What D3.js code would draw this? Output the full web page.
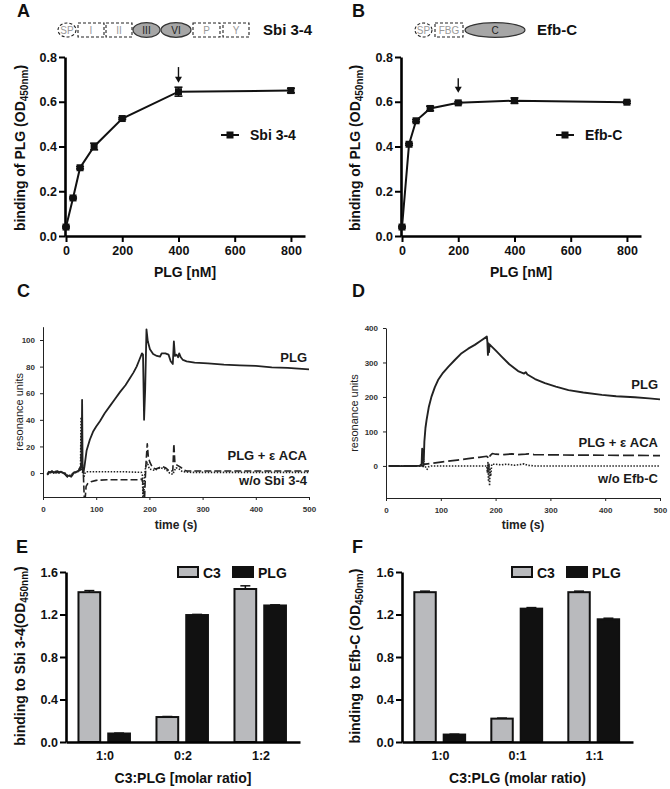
<!DOCTYPE html>
<html><head><meta charset="utf-8">
<script src="https://cdn.jsdelivr.net/npm/d3@7"></script>
<style>body{margin:0;background:#fff}svg{display:block}</style>
</head><body><svg id="c" width="670" height="789"></svg>
<script>
// ---------------- DATA ----------------
const plgConc = [0, 25, 50, 100, 200, 400, 800];
const sbiBinding = [0.04, 0.17, 0.305, 0.40, 0.525, 0.645, 0.65];
const sbiErr = [0.004, 0.004, 0.005, 0.015, 0.004, 0.02, 0.01];
const efbBinding = [0.04, 0.41, 0.515, 0.57, 0.595, 0.605, 0.598];
const efbErr = [0.004, 0.004, 0.005, 0.01, 0.005, 0.012, 0.005];
const odTicks = [0, 0.2, 0.4, 0.6, 0.8];
const concTicks = [0, 200, 400, 600, 800];
const sbiArrow = [400, 0.755, 0.685];
const efbArrow = [200, 0.705, 0.64];

const sbiDomains = ['SP', 'I', 'II', 'III', 'VI', 'P', 'Y'];
const efbDomains = ['SP', 'FBG', 'C'];

const timeTicks = [0, 100, 200, 300, 400, 500];
const ruTicksC = [0, 20, 40, 60, 80, 100];
const ruTicksD = [0, 100, 200, 300, 400];

const sprC_PLG = [[8,-1],[11,1],[14,0.5],[17,1.5],[20,0],[23,1],[27,1.5],[30,0.5],[34,1],[38,0],[42,-0.5],[45,-2.5],[49,-2],[53,-2.8],[56,-1],[58,0.5],[62,0.5],[65,1.5],[69,2],[71,4],[72.5,10],[73.5,55],[74.5,3],[76,0],[78,5],[82,17],[88,25],[94,31],[100,35],[107,39],[116,45],[126,50.5],[135,55.5],[145,61],[155,66],[163,71],[170,75.5],[176,80],[181,85],[186,90],[188,89],[190,40],[192,62],[194.5,108],[197,99],[201,93],[207,89.5],[214,88],[220,87.5],[223,90],[230,90],[236,89],[240,84],[244,82],[246,99],[248,88],[251,89],[254,87],[256,90],[259,87],[263,85],[270,84],[285,83],[310,82.5],[340,81.5],[370,81],[400,80.5],[430,79.5],[460,79],[480,78.5],[500,78]];
const sprC_PLGeACA = [[8,-1.5],[12,0.5],[16,1],[21,-0.5],[25,1],[30,0],[35,1.5],[40,-0.5],[46,-3],[52,-2.5],[57,0],[62,1],[67,2.5],[71,5],[72.5,30],[73.5,5],[76,-2],[77.5,-18],[79.5,-18],[81,-10],[84,-8],[90,-6.5],[100,-5.5],[120,-5],[150,-5],[180,-5],[186,-4.5],[188,-8],[189,-18],[191,-18],[192.5,-2],[194,10],[196,22],[198,12],[201,8],[206,4],[212,3],[218,4],[224,5],[230,4],[236,2],[240,1],[244,2],[246,22],[248,7],[252,6],[256,5],[260,4],[264,2.5],[270,1.5],[300,1.5],[400,1.5],[500,1.5]];
const sprC_noSbi = [[8,-0.5],[13,0],[18,1],[24,0],[29,1],[35,0.5],[41,0],[47,-2],[52,-1.5],[57,0],[63,0.5],[68,1.5],[70.5,3],[71.5,42],[72.5,2],[75,0],[77,-3],[79,0],[82,1],[100,1],[150,1],[185,0.5],[187,-2],[187.8,-18],[189.5,-18],[190.5,-5],[193,5],[196,8],[200,3],[210,2],[220,4],[230,3],[238,0],[244,-1],[246,1],[250,4],[256,3],[262,1],[280,0.5],[500,0.5]];

const sprD_PLG = [[5,0],[20,-0.5],[40,0],[55,0],[62,1],[65,5],[66,50],[67,10],[68,45],[69,20],[70,70],[72,110],[74,133],[78,170],[83,201],[89,228],[95,249],[104,270],[114,288],[126,308],[138,327],[150,340],[162,351],[173,363],[184,375],[185,360],[186,322],[187,355],[188,330],[189,352],[193,346],[200,335],[211,317],[225,295],[241,275],[252,268],[255,272],[258,265],[272,252],[290,240],[310,230],[333,220],[360,213],[394,206],[420,202],[454,199],[480,196],[500,193]];
const sprD_PLGeACA = [[5,0],[30,0],[60,0],[66,1],[68,3],[72,5],[90,9],[110,13],[130,17],[150,21],[170,25],[184,28],[186,25],[188,20],[190,30],[194,36],[200,34],[215,33],[230,35],[240,33],[255,34],[260,35],[270,33],[300,32],[400,31],[500,30]];
const sprD_noEfb = [[5,0],[60,0],[66,0],[67,30],[68,-5],[69,20],[71,0],[75,-10],[78,-2],[82,0],[120,0],[184,0],[185,-20],[186,10],[187,-45],[188,5],[189,-58],[190,-10],[191,-30],[193,5],[200,5],[210,3],[220,5],[235,2],[245,4],[252,6],[258,2],[270,0],[500,0]];

const ratiosE = ['1:0', '0:2', '1:2'];
const ratiosF = ['1:0', '0:1', '1:1'];
const barSeries = ['C3', 'PLG'];
const c3ToSbi = [1.41, 0.235, 1.44];
const c3ToSbiErr = [0.015, 0.005, 0.03];
const plgToSbi = [0.08, 1.195, 1.285];
const plgToSbiErr = [0.004, 0.006, 0.006];
const c3ToEfb = [1.41, 0.22, 1.41];
const c3ToEfbErr = [0.01, 0.005, 0.01];
const plgToEfb = [0.07, 1.255, 1.155];
const plgToEfbErr = [0.004, 0.01, 0.01];
const barTicks = [0, 0.4, 0.8, 1.2, 1.6];

// ---------------- DRAWING ----------------
const FONT = '"Liberation Sans", Arial, Helvetica, sans-serif';
const svg = d3.select('#c');
svg.append('rect').attr('width', 670).attr('height', 789).attr('fill', '#fff');

function styleAxis(sel, o) {
  sel.attr('font-family', FONT);
  sel.select('.domain').attr('stroke', o.color).attr('stroke-width', o.dw);
  sel.selectAll('.tick line').attr('stroke', o.color).attr('stroke-width', o.tw);
  sel.selectAll('.tick text').attr('font-family', FONT).attr('font-size', o.fs)
    .attr('font-weight', 'bold').attr('fill', o.tc);
}
const GP = {color: '#000', dw: 2.6, tw: 2, fs: 12.5, tc: '#111'};
const SPR = {color: '#222', dw: 1, tw: 1, fs: 8, tc: '#333'};

function txt(x, y, s, size, weight, anchor, fill) {
  return svg.append('text').attr('x', x).attr('y', y).text(s)
    .attr('font-family', FONT).attr('font-size', size).attr('font-weight', weight || 'bold')
    .attr('text-anchor', anchor || 'start').attr('fill', fill || '#111');
}
function odTitle(x, y, pre) {
  const t = svg.append('text').attr('transform', `translate(${x},${y}) rotate(-90)`)
    .attr('font-family', FONT).attr('font-size', 14).attr('font-weight', 'bold')
    .attr('text-anchor', 'middle').attr('fill', '#111');
  t.append('tspan').text(pre + '(OD');
  t.append('tspan').attr('font-size', 10).attr('dy', 3).text('450nm');
  t.append('tspan').attr('dy', -3).text(')');
}

// panel letters
[['A', 17, 17], ['B', 352, 17], ['C', 17, 297], ['D', 352, 297], ['E', 16, 553], ['F', 352, 553]]
  .forEach(([s, x, y]) => txt(x, y, s, 18, 'bold', 'start', '#111'));

// domain diagrams
function domainDiagram(names, layout) {
  const g = svg.append('g');
  names.forEach((n, i) => {
    const L = layout[i];
    const cx = L.x0 + (L.x1 - L.x0) / 2;
    if (L.kind === 'oval') {
      g.append('ellipse').attr('cx', cx).attr('cy', 30).attr('rx', (L.x1 - L.x0) / 2).attr('ry', 7)
        .attr('fill', 'none').attr('stroke', '#222').attr('stroke-width', 1.1).attr('stroke-dasharray', '3,2');
    } else if (L.kind === 'box') {
      g.append('rect').attr('x', L.x0).attr('y', 23).attr('width', L.x1 - L.x0).attr('height', 14)
        .attr('fill', 'none').attr('stroke', '#222').attr('stroke-width', 1.1).attr('stroke-dasharray', '3,2');
    } else {
      g.append('ellipse').attr('cx', cx).attr('cy', 30).attr('rx', (L.x1 - L.x0) / 2).attr('ry', 7.3)
        .attr('fill', '#a6a6a6').attr('stroke', '#333').attr('stroke-width', 1.2);
    }
    g.append('text').attr('x', cx).attr('y', 33.5).text(n).attr('font-family', FONT)
      .attr('font-size', 10).attr('text-anchor', 'middle')
      .attr('fill', L.kind === 'fill' ? '#222' : '#9a9a9a');
  });
}
domainDiagram(sbiDomains, [
  {kind: 'oval', x0: 58, x1: 76}, {kind: 'box', x0: 78, x1: 104}, {kind: 'box', x0: 106, x1: 132},
  {kind: 'fill', x0: 133, x1: 160}, {kind: 'fill', x0: 161, x1: 191},
  {kind: 'box', x0: 193, x1: 220}, {kind: 'box', x0: 223, x1: 249}]);
domainDiagram(efbDomains, [
  {kind: 'oval', x0: 415, x1: 432}, {kind: 'box', x0: 435, x1: 463}, {kind: 'fill', x0: 465, x1: 525}]);
txt(263, 35, 'Sbi 3-4', 15);
txt(537, 35, 'Efb-C', 15);

// dose-response panels
function dosePanel(ax, xEnd, vals, errs, arrow, name, legX) {
  const x = d3.scaleLinear().domain([-3.6, 850]).range([ax, xEnd]);
  const y = d3.scaleLinear().domain([0, 0.8]).range([236, 57]);
  svg.append('g').attr('transform', 'translate(0,236)')
    .call(d3.axisBottom(x).tickValues(concTicks).tickFormat(d3.format('d')).tickSize(6).tickSizeOuter(0).tickPadding(4))
    .call(styleAxis, GP);
  svg.append('g').attr('transform', `translate(${ax},0)`)
    .call(d3.axisLeft(y).tickValues(odTicks).tickFormat(d3.format('.1f')).tickSize(6).tickSizeOuter(0).tickPadding(2))
    .call(styleAxis, GP);
  const pts = plgConc.map((c, i) => ({c, v: vals[i], e: errs[i]}));
  svg.append('path').datum(pts).attr('fill', 'none').attr('stroke', '#111').attr('stroke-width', 2)
    .attr('d', d3.line().x(d => x(d.c)).y(d => y(d.v)));
  const eb = svg.append('g').attr('stroke', '#111').attr('stroke-width', 1.6);
  pts.forEach(d => {
    eb.append('line').attr('x1', x(d.c)).attr('x2', x(d.c)).attr('y1', y(d.v - d.e)).attr('y2', y(d.v + d.e));
    [d.v - d.e, d.v + d.e].forEach(v => eb.append('line').attr('x1', x(d.c) - 4).attr('x2', x(d.c) + 4).attr('y1', y(v)).attr('y2', y(v)));
  });
  svg.append('g').selectAll('rect').data(pts).join('rect')
    .attr('x', d => x(d.c) - 3.5).attr('y', d => y(d.v) - 3.5).attr('width', 7).attr('height', 7).attr('fill', '#111');
  // arrow
  const axx = x(arrow[0]);
  svg.append('line').attr('x1', axx).attr('x2', axx).attr('y1', y(arrow[1])).attr('y2', y(arrow[2]) - 4)
    .attr('stroke', '#111').attr('stroke-width', 1.4);
  svg.append('path').attr('d', `M${axx - 3.5},${y(arrow[2]) - 6} L${axx + 3.5},${y(arrow[2]) - 6} L${axx},${y(arrow[2])} Z`).attr('fill', '#111');
  // legend
  svg.append('line').attr('x1', legX).attr('x2', legX + 18).attr('y1', 135).attr('y2', 135).attr('stroke', '#111').attr('stroke-width', 2);
  svg.append('rect').attr('x', legX + 5.5).attr('y', 131.5).attr('width', 7).attr('height', 7).attr('fill', '#111');
  txt(legX + 29, 140, name, 14);
  txt((ax + xEnd) / 2 + 0, 277, 'PLG [nM]', 14, 'bold', 'middle');
}
dosePanel(65, 305, sbiBinding, sbiErr, sbiArrow, 'Sbi 3-4', 221);
dosePanel(401, 641, efbBinding, efbErr, efbArrow, 'Efb-C', 556);
odTitle(25, 148, 'binding of PLG ');
odTitle(360, 148, 'binding of PLG ');

// sensorgram panels
function sprPanel(id, ax, w, yb, yt, ymin, ymax, ticks, series, labels, titleX) {
  const x = d3.scaleLinear().domain([0, 500]).range([ax, ax + w]);
  const y = d3.scaleLinear().domain([ymin, ymax]).range([yb, yt]);
  svg.append('g').attr('transform', `translate(0,${yb})`)
    .call(d3.axisBottom(x).tickValues(timeTicks).tickSize(3).tickSizeOuter(0).tickPadding(6)).call(styleAxis, SPR);
  svg.append('g').attr('transform', `translate(${ax},0)`)
    .call(d3.axisLeft(y).tickValues(ticks).tickSize(3).tickSizeOuter(0).tickPadding(5)).call(styleAxis, SPR);
  svg.append('clipPath').attr('id', id).append('rect').attr('x', ax).attr('y', yt - 5).attr('width', w + 2).attr('height', yb - yt + 5);
  const line = d3.line().x(d => x(d[0])).y(d => y(d[1]));
  const g = svg.append('g').attr('clip-path', `url(#${id})`);
  series.forEach(s => g.append('path').datum(s.data).attr('fill', 'none').attr('stroke', '#222')
    .attr('stroke-width', s.w).attr('stroke-dasharray', s.dash).attr('stroke-linejoin', 'round').attr('d', line));
  labels.forEach(l => txt(ax + w - 2, l[1], l[0], 13, 'bold', 'end', '#1a1a1a'));
  svg.append('text').attr('transform', `translate(${titleX},${(yb + yt) / 2}) rotate(-90)`).text('resonance units')
    .attr('font-family', FONT).attr('font-size', 11).attr('text-anchor', 'middle').attr('fill', '#222');
  txt(ax + w / 2, 529, 'time (s)', 12, 'bold', 'middle', '#222');
}
sprPanel('clipC', 43, 266, 497, 326.7, -18, 110, ruTicksC, [
  {data: sprC_noSbi, w: 1.6, dash: '1.5,1.5'},
  {data: sprC_PLGeACA, w: 1.6, dash: '7,3'},
  {data: sprC_PLG, w: 1.8, dash: null}],
  [['PLG', 362], ['PLG + \u03B5 ACA', 460], ['w/o Sbi 3-4', 485]], 23);
sprPanel('clipD', 386, 274, 498, 328, -93, 400, ruTicksD, [
  {data: sprD_noEfb, w: 1.6, dash: '1.5,1.5'},
  {data: sprD_PLGeACA, w: 1.7, dash: '11,4'},
  {data: sprD_PLG, w: 1.9, dash: null}],
  [['PLG', 389], ['PLG + \u03B5 ACA', 447], ['w/o Efb-C', 483]], 358);

// bar panels
function barPanel(ax, xEnd, cats, c3, c3e, plg, plge, legX, xTitle) {
  const x = d3.scaleBand().domain(cats).range([ax, xEnd]);
  const bw = x.bandwidth();
  const xs = d3.scaleBand().domain(barSeries).range([bw * 0.16, bw * 0.82]).paddingInner(0.27);
  const y = d3.scaleLinear().domain([0, 1.6]).range([742, 572]);
  const fills = {C3: '#b9babd', PLG: '#111'};
  const rows = [];
  cats.forEach((c, i) => { rows.push({c, s: 'C3', v: c3[i], e: c3e[i]}); rows.push({c, s: 'PLG', v: plg[i], e: plge[i]}); });
  const g = svg.append('g');
  rows.forEach(d => {
    const bx = x(d.c) + xs(d.s), w = xs.bandwidth(), cx = bx + w / 2;
    g.append('line').attr('x1', cx).attr('x2', cx).attr('y1', y(d.v)).attr('y2', y(d.v + d.e)).attr('stroke', '#111').attr('stroke-width', 1.5);
    g.append('line').attr('x1', cx - 5).attr('x2', cx + 5).attr('y1', y(d.v + d.e)).attr('y2', y(d.v + d.e)).attr('stroke', '#111').attr('stroke-width', 1.5);
    g.append('rect').attr('x', bx).attr('y', y(d.v)).attr('width', w).attr('height', y(0) - y(d.v))
      .attr('fill', fills[d.s]).attr('stroke', '#111').attr('stroke-width', 2);
  });
  svg.append('g').attr('transform', 'translate(0,742)')
    .call(d3.axisBottom(x).tickSize(0).tickSizeOuter(0).tickPadding(9)).call(styleAxis, GP);
  svg.append('g').attr('transform', `translate(${ax},0)`)
    .call(d3.axisLeft(y).tickValues(barTicks).tickFormat(d3.format('.1f')).tickSize(6).tickSizeOuter(0).tickPadding(2))
    .call(styleAxis, GP);
  // legend
  barSeries.forEach((s, i) => {
    const lx = legX + i * 55;
    svg.append('rect').attr('x', lx).attr('y', 567).attr('width', 20).attr('height', 10)
      .attr('fill', fills[s]).attr('stroke', '#111').attr('stroke-width', 2);
    txt(lx + 25, 578, s, 14);
  });
  txt((ax + xEnd) / 2, 783, xTitle, 14, 'bold', 'middle');
}
barPanel(66, 300, ratiosE, c3ToSbi, c3ToSbiErr, plgToSbi, plgToSbiErr, 178, 'C3:PLG [molar ratio]');
barPanel(402, 633, ratiosF, c3ToEfb, c3ToEfbErr, plgToEfb, plgToEfbErr, 512, 'C3:PLG (molar ratio)');
odTitle(25, 656, 'binding to Sbi 3-4');
odTitle(360, 656, 'binding to Efb-C ');
</script></body></html>
